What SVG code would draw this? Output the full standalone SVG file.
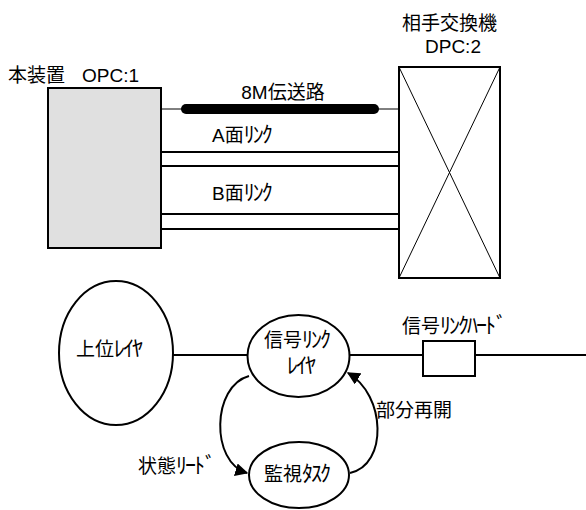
<svg xmlns="http://www.w3.org/2000/svg" width="586" height="510" viewBox="0 0 586 510">
<style>
text{font-family:"Liberation Sans","Noto Sans CJK JP",sans-serif;font-size:19px;fill:#000}
.k{font-family:"Noto Sans CJK JP",sans-serif;font-size:22px;letter-spacing:-2px}
.b{fill:none;stroke:#000;stroke-width:2}
.t{fill:none;stroke:#000;stroke-width:1}
</style>
<defs>
<marker id="a" viewBox="0 0 10 10" refX="9" refY="5" markerWidth="13" markerHeight="13" orient="auto" markerUnits="userSpaceOnUse">
<path d="M0,0 L10,5 L0,10 z" fill="#000"/>
</marker>
</defs>
<g id="connectors">
<line class="t" x1="161" y1="109" x2="399" y2="109"/>
<line x1="186" y1="109" x2="374" y2="109" stroke="#000" stroke-width="10" stroke-linecap="round"/>
<line class="b" x1="161" y1="152" x2="399" y2="152"/>
<line class="b" x1="161" y1="166" x2="399" y2="166"/>
<line class="b" x1="161" y1="214" x2="399" y2="214"/>
<line class="b" x1="161" y1="229" x2="399" y2="229"/>
<line class="b" x1="173" y1="355" x2="248" y2="355"/>
<line class="b" x1="349" y1="355" x2="423" y2="355"/>
<line class="b" x1="475" y1="355" x2="586" y2="355"/>
<path class="b" d="M249,376 C212,386 210,462 247,473" marker-end="url(#a)"/>
<path class="b" d="M350,473 C388,465 386,395 348,373" marker-end="url(#a)"/>
</g>
<g id="honsouchi">
<rect x="48" y="88" width="113" height="160" fill="#e0e0e0" stroke="#000" stroke-width="2"/>
<text x="8" y="82">本装置<tspan x="82">OPC:1</tspan></text>
</g>
<g id="aite">
<rect class="b" x="399" y="67" width="101" height="211" fill="#fff"/>
<line class="t" x1="399" y1="67" x2="500" y2="278"/>
<line class="t" x1="500" y1="67" x2="399" y2="278"/>
<text x="402" y="30">相手交換機</text>
<text x="425" y="53">DPC:2</text>
</g>
<g id="labels">
<text x="283" y="99" text-anchor="middle">8M伝送路</text>
<text x="212" y="142">A面<tspan class="k">ﾘﾝｸ</tspan></text>
<text x="212" y="200">B面<tspan class="k">ﾘﾝｸ</tspan></text>
<text x="138" y="473">状態<tspan class="k">ﾘｰﾄﾞ</tspan></text>
<text x="376" y="417">部分再開</text>
</g>
<g id="joui">
<ellipse class="b" cx="116" cy="353" rx="57" ry="72"/>
<text x="76" y="356">上位<tspan class="k">ﾚｲﾔ</tspan></text>
</g>
<g id="shingou">
<ellipse class="b" cx="298.5" cy="356" rx="51" ry="41" fill="#fff"/>
<text x="264" y="347">信号<tspan class="k">ﾘﾝｸ</tspan></text>
<text x="287" y="373" class="k">ﾚｲﾔ</text>
</g>
<g id="hard">
<rect class="b" x="423" y="341" width="52" height="35"/>
<text x="402" y="333">信号<tspan class="k">ﾘﾝｸﾊｰﾄﾞ</tspan></text>
</g>
<g id="kanshi">
<ellipse class="b" cx="299" cy="475" rx="50" ry="33" fill="#fff"/>
<text x="264" y="481">監視<tspan class="k">ﾀｽｸ</tspan></text>
</g>
</svg>
